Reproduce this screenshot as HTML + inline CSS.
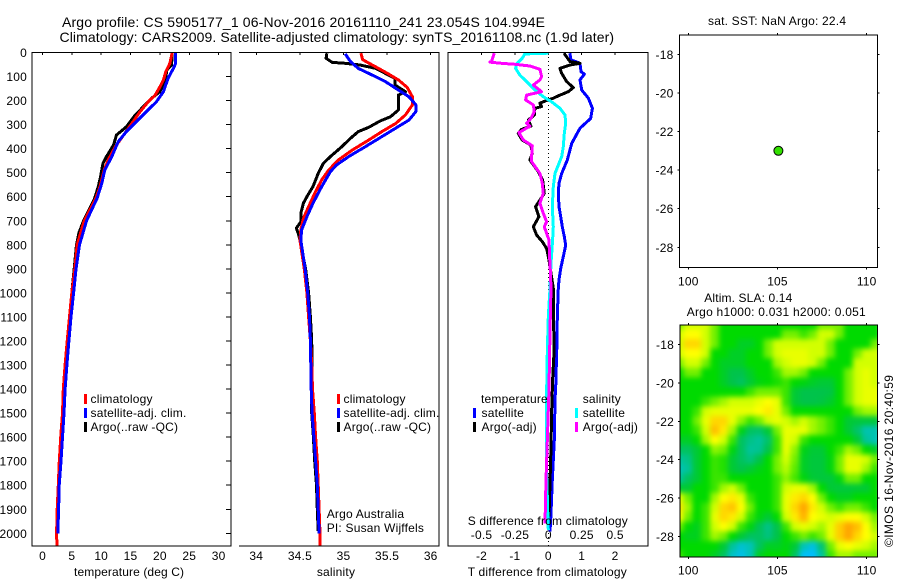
<!DOCTYPE html>
<html lang="en">
<head>
<meta charset="utf-8">
<title>Argo profile 5905177</title>
<style>
html,body{margin:0;padding:0;background:#fff;}
svg{display:block;font-family:"Liberation Sans",sans-serif;font-size:12px;fill:#000;letter-spacing:0.2px;}
.title{font-size:14px;letter-spacing:0;}
.fit{letter-spacing:0;}
</style>
</head>
<body>
<svg id="fig" xmlns="http://www.w3.org/2000/svg" width="900" height="580" viewBox="0 0 900 580">
  <defs>
    <clipPath id="clipT"><rect x="32" y="52" width="199" height="494"/></clipPath>
    <clipPath id="clipS"><rect x="239" y="52" width="200" height="494"/></clipPath>
    <clipPath id="clipD"><rect x="448" y="52" width="200" height="494"/></clipPath>
    <clipPath id="clipH"><rect x="680" y="325" width="197.5" height="232"/></clipPath>
    <filter id="heatBlur" x="-5%" y="-5%" width="110%" height="110%" color-interpolation-filters="sRGB"><feGaussianBlur stdDeviation="2.6"/></filter>
  </defs>
  <text class="title" x="62" y="27" textLength="483" lengthAdjust="spacing">Argo profile: CS 5905177_1 06-Nov-2016 20161110_241 23.054S 104.994E</text>
  <text class="title" x="59.5" y="42" textLength="554.5" lengthAdjust="spacing">Climatology: CARS2009. Satellite-adjusted climatology: synTS_20161108.nc (1.9d later)</text>

  <g id="pT"></g>
  <g id="pS"></g>
  <g id="pD"></g>
  <g id="pM"></g>
  <g id="pH"></g>

  <g fill="none" stroke="#000" stroke-width="1.4" shape-rendering="crispEdges">
    <path d="M32 52.5H231V546H32Z"/>
  </g>
  <g fill="none" stroke="#000" stroke-width="1.4" shape-rendering="crispEdges">
    <path d="M239 52.5H439V546H239"/>
  </g>
  <g fill="none" stroke="#000" stroke-width="1.4" shape-rendering="crispEdges">
    <path d="M448 52.5H648V546H448Z"/>
  </g>
  <g fill="none" stroke="#000" stroke-width="1.4" shape-rendering="crispEdges">
    <path d="M679.5 35H877.5V267.5H679.5Z"/>
  </g>
  <g fill="none" stroke="#000" stroke-width="1.4" shape-rendering="crispEdges">
    <path d="M680 325H877.5V557H680Z"/>
  </g>

  <g>
    <rect x="84" y="394" width="3" height="10" fill="#f00"/>
    <text x="90.5" y="403">climatology</text>
    <rect x="84" y="408" width="3" height="10" fill="#00f"/>
    <text x="90.5" y="417">satellite-adj. clim.</text>
    <rect x="84" y="422" width="3" height="10" fill="#000"/>
    <text x="90.5" y="431">Argo(..raw -QC)</text>
  </g>
  <g>
    <rect x="337" y="394" width="3" height="10" fill="#f00"/>
    <text x="343.5" y="403">climatology</text>
    <rect x="337" y="408" width="3" height="10" fill="#00f"/>
    <text x="343.5" y="417">satellite-adj. clim.</text>
    <rect x="337" y="422" width="3" height="10" fill="#000"/>
    <text x="343.5" y="431">Argo(..raw -QC)</text>
    <text x="326.7" y="518">Argo Australia</text>
    <text x="326.7" y="532">PI: Susan Wijffels</text>
  </g>
  <g>
    <text x="481" y="403">temperature</text>
    <rect x="473" y="408" width="3" height="10" fill="#00f"/>
    <text x="481.5" y="417">satellite</text>
    <rect x="473" y="422" width="3" height="10" fill="#000"/>
    <text x="481.5" y="431">Argo(-adj)</text>
    <text x="582.7" y="403">salinity</text>
    <rect x="575" y="408" width="3" height="10" fill="#0ff"/>
    <text x="582.7" y="417">satellite</text>
    <rect x="575" y="422" width="3" height="10" fill="#f0f"/>
    <text x="582.7" y="431">Argo(-adj)</text>
    <text class="fit" x="467.7" y="525" textLength="160" lengthAdjust="spacing">S difference from climatology</text>
  </g>

  <text class="fit" x="74" y="576" textLength="110" lengthAdjust="spacing">temperature (deg C)</text>
  <text x="336" y="576" text-anchor="middle">salinity</text>
  <text class="fit" x="467.7" y="576" textLength="159" lengthAdjust="spacing">T difference from climatology</text>
  <text class="fit" x="708" y="25" textLength="138" lengthAdjust="spacing">sat. SST: NaN Argo: 22.4</text>
  <text class="fit" x="704.3" y="302" textLength="88" lengthAdjust="spacing">Altim. SLA: 0.14</text>
  <text class="fit" x="686.7" y="316" textLength="179" lengthAdjust="spacing">Argo h1000: 0.031 h2000: 0.051</text>
  <text class="fit" transform="translate(893 547) rotate(-90)" textLength="172" lengthAdjust="spacing">©IMOS 16-Nov-2016 20:40:59</text>
</svg>
<script>
// ---- axis tick data ----
const depthTicks = [0,100,200,300,400,500,600,700,800,900,1000,1100,1200,1300,1400,1500,1600,1700,1800,1900,2000];
const tempTicks = [0,5,10,15,20,25,30];
const salTicks = [34,34.5,35,35.5,36];
const salTickLabels = ['34','34.5','35','35.5','36'];
const tDiffTicks = [-2,-1,0,1,2];
const sDiffTicks = [-0.5,-0.25,0,0.25,0.5];
const sDiffLabels = ['-0.5','-0.25','0','0.25','0.5'];
const lonTicks = [100,105,110];
const latTicks = [-18,-20,-22,-24,-26,-28];

// ---- temperature profiles ----
const tempClimDepth = [0,45,80,115,143,177,205,247,296,344,392,447,489,558,606,700,800,900,1000,1100,1200,1300,1400,1500,1600,1700,1800,1900,2000,2050];
const tempClimValue = [22.1,21.7,21.0,20.6,20.0,19.2,18.0,16.6,15.2,13.8,12.4,11.2,10.5,9.8,9.1,7.1,5.9,5.5,5.0,4.6,4.2,3.85,3.55,3.4,3.1,2.87,2.7,2.5,2.4,2.45];
const tempSatDepth = [0,45,66,107,163,205,246,288,329,371,433,489,544,606,700,800,900,1000,1100,1200,1300,1400,1500,1600,1700,1800,1900,2000];
const tempSatValue = [22.7,22.7,22.3,21.4,20.6,19.4,17.7,16.0,14.3,12.9,11.8,10.6,10.1,9.3,7.5,6.3,5.7,5.3,4.85,4.5,4.15,3.85,3.66,3.4,3.15,2.85,2.75,2.6];
const tempArgoDepth = [0,52,73,114,163,190,225,260,309,343,385,433,461,516,558,606,700,750,800,900,1000,1100,1200,1300,1400,1500,1600,1700,1800,1900,1990];
const tempArgoValue = [22.1,22,21.2,20.9,20.0,18.6,17.2,15.8,14.3,12.6,12.1,10.9,10.3,9.9,9.5,8.9,7.0,6.2,5.8,5.4,5.0,4.6,4.25,3.9,3.6,3.4,3.15,2.95,2.75,2.55,2.45];

// ---- salinity profiles ----
const salClimDepth = [3,30,52,82,114,145,184,218,260,295,329,364,406,447,489,530,586,641,690,738,780,900,1000,1100,1200,1300,1400,1500,1600,1700,1800,1900,2000,2050];
const salClimValue = [35.2,35.22,35.33,35.48,35.63,35.73,35.79,35.79,35.71,35.6,35.44,35.29,35.1,34.94,34.83,34.75,34.67,34.6,34.54,34.51,34.5,34.55,34.58,34.6,34.62,34.635,34.645,34.665,34.68,34.70,34.71,34.72,34.73,34.73];
const salSatDepth = [6,38,66,94,121,156,184,218,246,281,308,350,392,433,468,496,558,627,683,738,780,900,1000,1100,1200,1300,1400,1500,1600,1700,1800,1900,2000];
const salSatValue = [35.02,35.08,35.17,35.33,35.48,35.63,35.75,35.83,35.83,35.75,35.63,35.44,35.25,35.06,34.92,34.85,34.75,34.65,34.58,34.52,34.51,34.56,34.59,34.61,34.62,34.625,34.63,34.64,34.66,34.68,34.70,34.71,34.72];
const salArgoDepth = [3,24,41,45,52,66,87,107,135,163,177,205,239,267,285,311,329,357,392,433,461,503,558,600,627,669,704,731,752,780,900,1000,1100,1200,1300,1400,1500,1600,1700,1800,1900,1990];
const salArgoValue = [34.81,34.8,34.87,35.02,35.19,35.37,35.48,35.59,35.59,35.71,35.63,35.63,35.63,35.54,35.42,35.29,35.17,35.08,34.98,34.85,34.77,34.71,34.65,34.58,34.54,34.51,34.51,34.46,34.48,34.5,34.565,34.6,34.62,34.635,34.64,34.635,34.635,34.655,34.67,34.69,34.70,34.71];

// ---- difference profiles ----
const dTSatDepth = [3,30,45,80,90,114,156,190,232,274,315,378,447,503,544,586,641,683,725,766,801,849,898,946,981,1100,1200,1300,1362,1445,1612,1778,1917,1993];
const dTSatValue = [0.65,0.67,0.95,0.98,1.08,0.95,1.0,1.2,1.32,1.27,0.95,0.7,0.57,0.4,0.32,0.3,0.32,0.37,0.42,0.48,0.52,0.45,0.37,0.32,0.3,0.27,0.26,0.24,0.23,0.2,0.18,0.12,0.08,0.05];
const dTArgoDepth = [3,38,45,52,66,87,121,146,163,177,190,202,211,225,232,260,281,306,320,336,364,385,419,447,496,530,586,614,641,683,725,759,787,815,863,919,981,1100,1250,1362,1500,1640,1790,1930];
const dTArgoValue = [0.47,0.65,0.95,0.65,0.35,0.4,0.55,0.75,0.6,0.35,0.15,-0.1,-0.25,-0.2,-0.4,-0.42,-0.6,-0.52,-0.8,-0.9,-0.78,-0.52,-0.48,-0.55,-0.3,-0.17,-0.12,-0.25,-0.38,-0.28,-0.45,-0.35,-0.18,-0.05,0.02,0.08,0.15,0.16,0.17,0.13,0.1,0.08,0.05,0.02];
const dSSatDepth = [3,6,24,48,66,94,121,156,184,205,232,260,295,336,392,433,503,558,641,725,780,877,946,981,1100,1200,1300,1432,1750,1889,1986];
const dSSatValue = [0,-0.175,-0.195,-0.2375,-0.245,-0.2125,-0.1625,-0.1,-0.0375,0.025,0.0875,0.125,0.13,0.12,0.1125,0.1,0.05,0.0375,0.03,0.0375,0.0325,0.02,0.015,0.0125,0,-0.005,-0.01,-0.0125,-0.0125,-0.005,0];
const dSArgoDepth = [3,38,40,45,49,56,70,100,114,135,163,177,197,218,246,274,295,306,333,364,388,433,454,503,544,586,627,669,704,725,752,780,849,905,981,1100,1250,1400,1778,1959];
const dSArgoValue = [-0.405,-0.425,-0.4375,-0.35,-0.25,-0.1375,-0.0625,-0.05,-0.0625,-0.1125,-0.05,-0.1625,-0.17,-0.1125,-0.105,-0.13,-0.1625,-0.1375,-0.22,-0.1875,-0.12,-0.125,-0.125,-0.0625,-0.045,-0.0375,-0.0625,-0.0375,-0.0125,-0.03,-0.0125,0.005,0.01,0.015,0.02,0.015,0.01,0.005,-0.0175,-0.025];

// ---- float position ----
const floatLon = 105.05;
const floatLat = -23.0;

// ---- sea level anomaly grid (colour level 0=blue .. 8=orange) ----
const heatLons = [99.5,100,100.5,101,101.5,102,102.5,103,103.5,104,104.5,105,105.5,106,106.5,107,107.5,108,108.5,109,109.5,110,110.5];
const heatLats = [-17,-17.5,-18,-18.5,-19,-19.5,-20,-20.5,-21,-21.5,-22,-22.5,-23,-23.5,-24,-24.5,-25,-25.5,-26,-26.5,-27,-27.5,-28,-28.5,-29];
const heatValues = [
[4,5,5,5,4,3,3,3,3,3,3,3,3,3,3,3,4,4,4,3,3,3,3],
[5,6,6,5,4,3,3,3,3,3,3,3,4,4,3.5,4,5,5,4,3,3,3,3],
[5,7,7,5,4,3,3,2.5,2.5,3,4,5,5,5,5,5,5,4,3,3,3,3,4],
[5,6,6,5,3,3,2.5,2.5,3,3,4,5,5.5,5.5,5.5,5,5,4,3,3,4,5,5],
[4,5,5,4,3,2.5,2.5,2.5,3,3,3,4.5,5,5.5,5.5,5,4,3,3,3,5,5,5],
[3,4,4,3,3,2.5,2,2,2.5,3,3,3.5,4.5,4.5,4,3,3,3,3,4,5,5.5,5],
[3,3,3,3,3,2.5,2,1.8,2.3,2.8,3,3.2,3.5,3,2.8,2.5,2.3,2.3,3,4,5,5.5,5],
[3,3,3,3,3,3,3,3,3.5,4,4,4,3.5,2.3,2,2,2,2.1,3,4,5,5.5,5.5],
[3,3,3,3.5,4,4.5,5,5,5,5.5,6,5.5,3.5,2.3,2,2,2.1,2.4,3,4,5,5.5,5.5],
[3,3,3.5,5,5.5,5.5,5.5,5.5,5.5,6,6.5,5.5,4,3,3,3,3,3,3,3,4,4.5,4.5],
[3,3,4,5.5,7,7,5.5,4.3,3.5,4,5,5.5,5,4.5,5,4.5,4,3.5,3,2.3,2.2,2.2,2.2],
[3,3,3.5,5,7.5,6.5,4.5,2.7,1.8,1.7,2.3,4,5.5,5.5,5.5,4.5,4,3.5,3,2.3,1.7,1,1],
[2.5,2.5,3,4.5,6,5,3.5,1.8,1.4,1.2,1.7,3.5,5.5,5,3.5,3,3,3,3,3,2.3,1.2,0.9],
[1.8,1.8,2.3,3,4.3,4,2.8,1.8,1.2,1.3,2,3.5,5.5,4.3,2.7,2.3,2.3,3,3.5,4.5,4,3,2.5],
[1.2,1.4,2.3,3,3.5,3.3,2.3,1.8,1.5,2,3,4,5,4,2.5,2.2,2.2,2.8,4,5.5,5.5,5,4],
[0.9,1.2,2.3,3,3.5,3.3,2.3,2,2.3,2.7,3,4,4.7,3.8,2.5,2.2,2.2,2.8,4,5.5,5.5,4.5,3.5],
[1.2,1.8,2.3,3,3.5,3.5,3,3,3,3,3,3.5,4.3,3.6,2.8,2.3,2.2,2.2,2.8,4,4,3,3],
[2.3,2.3,3,3,3.5,4.5,5,4,3,3,3,3.5,5,5.5,5.5,4.5,3,2.3,2.2,2.2,2.3,2.3,3],
[5.5,4,3,3,4.5,6,6.5,5.5,3.5,3,3,3.5,5.5,6.5,7,6,4,3,2.6,2.6,3,3,3],
[6.5,4.5,3,3.5,5,7,7.4,6,4,3,3,3.5,5.5,7,8,6.5,5,4,3.5,4,4,3.5,3],
[6,4,3,3.5,5.5,7,6.5,5,3.5,2.8,2.3,3,5,6.5,7.7,6,5.5,5,5.5,6,6,5,4],
[4,3,2.6,3.5,5,6,5,3.5,2.8,1.9,1.4,2,3.5,5,5.5,5,4.5,5.5,7.2,8.3,7.5,6,4.5],
[3,2.6,2.6,3.5,4.5,4,3,2.3,1.8,1.8,1.5,2,3,3.5,4,3.5,4,5.5,7.2,8,7,6,5],
[3,3,3,3,3,2.3,1.2,0.6,0.9,1.8,2.5,2.5,2.8,2.3,0.9,0.4,1.6,4,5.5,6,5.5,5,4.5],
[3.5,3,3,3,2.5,1.8,0.7,0.3,0.9,2.5,3,3,3,1.8,0.1,0,1.2,3.5,4.5,4.5,4,4,4]
];

// ---- axis functions ----
function yDepth(d){ return 52.5 + d * 0.2404; }
function xTemp(v){ return 42.5 + v * 5.87; }
function xSal(v){ return 256.3 + (v - 34) * 87.2; }
function xTDiff(v){ return 548.3 + v * 33.4; }
function xSDiff(v){ return 548.3 + v * 4 * 33.4; }
function xMapLon(v){ return 688.3 + (v - 100) * 17.84; }
function yMap1Lat(v){ return 54.3 + (-18 - v) * 19.3; }
function yMap2Lat(v){ return 344.3 + (-18 - v) * 19.24; }

const SVGNS = 'http://www.w3.org/2000/svg';
function heatColor(v){
  const stops = [[0,190,255],[0,195,175],[0,195,75],[0,218,0],[115,240,0],[210,255,0],[255,255,0],[255,215,0],[255,165,0]];
  const t = Math.max(0, Math.min(8, v));
  const i = Math.min(7, Math.floor(t));
  const f = t - i;
  const c = stops[i].map(function(a, k){ return Math.round(a + (stops[i + 1][k] - a) * f); });
  return 'rgb(' + c.join(',') + ')';
}
function drawLine(parent, name, x1, y1, x2, y2){
  const el = document.createElementNS(SVGNS, 'line');
  
  
  el.setAttribute('x1', x1);
  el.setAttribute('y1', y1);
  el.setAttribute('x2', x2);
  el.setAttribute('y2', y2);
  el.setAttribute('stroke', '#000');
  el.setAttribute('stroke-width', '1');
  el.setAttribute('shape-rendering', 'crispEdges');
  parent.appendChild(el);
}
function drawLabel(parent, name, x, y, anchor, str){
  const el = document.createElementNS(SVGNS, 'text');
  
  
  el.setAttribute('x', x);
  el.setAttribute('y', y);
  el.setAttribute('text-anchor', anchor);
  el.textContent = str;
  parent.appendChild(el);
}
function drawProfile(parent, name, clip, depths, values, xf, color, width){
  const el = document.createElementNS(SVGNS, 'polyline');
  
  
  el.setAttribute('points', depths.map(function(d, i){ return xf(values[i]).toFixed(1) + ',' + yDepth(d).toFixed(1); }).join(' '));
  el.setAttribute('fill', 'none');
  el.setAttribute('stroke', color);
  el.setAttribute('stroke-width', width);
  el.setAttribute('stroke-linejoin', 'round');
  el.setAttribute('shape-rendering', 'crispEdges');
  el.setAttribute('clip-path', 'url(#' + clip + ')');
  parent.appendChild(el);
}

const pT = document.getElementById('pT');
const pS = document.getElementById('pS');
const pD = document.getElementById('pD');
const pM = document.getElementById('pM');
const pH = document.getElementById('pH');

// temperature panel
depthTicks.forEach(function(d){
  drawLine(pT, 'depth-tick', 226, yDepth(d), 231, yDepth(d));
  drawLabel(pT, 'depth-tick-label', 27, yDepth(d) + 4.5, 'end', String(d));
});
tempTicks.forEach(function(v){
  drawLine(pT, 'temperature-tick', xTemp(v), 52.5, xTemp(v), 55);
  drawLabel(pT, 'temperature-tick-label', xTemp(v), 560, 'middle', String(v));
});
drawProfile(pT, 'temperature-argo-line', 'clipT', tempArgoDepth, tempArgoValue, xTemp, '#000', 3);
drawProfile(pT, 'temperature-climatology-line', 'clipT', tempClimDepth, tempClimValue, xTemp, '#f00', 3);
drawProfile(pT, 'temperature-satellite-line', 'clipT', tempSatDepth, tempSatValue, xTemp, '#00f', 3);

// salinity panel
salTicks.forEach(function(v, i){
  drawLine(pS, 'salinity-tick', xSal(v), 52.5, xSal(v), 55);
  drawLabel(pS, 'salinity-tick-label', xSal(v), 560, 'middle', salTickLabels[i]);
});
drawProfile(pS, 'salinity-argo-line', 'clipS', salArgoDepth, salArgoValue, xSal, '#000', 3);
drawProfile(pS, 'salinity-climatology-line', 'clipS', salClimDepth, salClimValue, xSal, '#f00', 3);
drawProfile(pS, 'salinity-satellite-line', 'clipS', salSatDepth, salSatValue, xSal, '#00f', 3);

// difference panel
tDiffTicks.forEach(function(v){
  drawLine(pD, 't-difference-tick', xTDiff(v), 52.5, xTDiff(v), 55);
  drawLabel(pD, 't-difference-tick-label', xTDiff(v), 560, 'middle', String(v));
});
sDiffTicks.forEach(function(v, i){
  drawLabel(pD, 's-difference-tick-label', xSDiff(v), 539, 'middle', sDiffLabels[i]);
});
(function(){
  const z = document.createElementNS(SVGNS, 'line');
  
  
  z.setAttribute('x1', xTDiff(0));
  z.setAttribute('x2', xTDiff(0));
  z.setAttribute('y1', 53);
  z.setAttribute('y2', 546);
  z.setAttribute('stroke', '#000');
  z.setAttribute('stroke-width', '1');
  z.setAttribute('stroke-dasharray', '1 3');
  z.setAttribute('shape-rendering', 'crispEdges');
  pD.appendChild(z);
})();
drawProfile(pD, 't-difference-satellite-line', 'clipD', dTSatDepth, dTSatValue, xTDiff, '#00f', 3);
drawProfile(pD, 't-difference-argo-line', 'clipD', dTArgoDepth, dTArgoValue, xTDiff, '#000', 3);
drawProfile(pD, 's-difference-satellite-line', 'clipD', dSSatDepth, dSSatValue, xSDiff, '#0ff', 3);
drawProfile(pD, 's-difference-argo-line', 'clipD', dSArgoDepth, dSArgoValue, xSDiff, '#f0f', 3);

// SST map
lonTicks.forEach(function(v){
  drawLine(pM, 'sst-map-lon-tick-top', xMapLon(v), 33, xMapLon(v), 35);
  drawLine(pM, 'sst-map-lon-tick-bottom', xMapLon(v), 267.5, xMapLon(v), 269.5);
  drawLabel(pM, 'sst-map-lon-label', xMapLon(v), 285.5, 'middle', String(v));
});
latTicks.forEach(function(v){
  drawLine(pM, 'sst-map-lat-tick-left', 677.5, yMap1Lat(v), 679.5, yMap1Lat(v));
  drawLine(pM, 'sst-map-lat-tick-right', 877.5, yMap1Lat(v), 879.5, yMap1Lat(v));
  drawLabel(pM, 'sst-map-lat-label', 673.5, yMap1Lat(v) + 4.5, 'end', String(v));
});
(function(){
  const dot = document.createElementNS(SVGNS, 'circle');
  
  
  dot.setAttribute('cx', xMapLon(floatLon));
  dot.setAttribute('cy', yMap1Lat(floatLat));
  dot.setAttribute('r', '4.5');
  dot.setAttribute('fill', '#33e000');
  dot.setAttribute('stroke', '#000');
  dot.setAttribute('stroke-width', '1');
  pM.appendChild(dot);
})();

// SLA map
(function(){
  const clipper = document.createElementNS(SVGNS, 'g');
  clipper.setAttribute('clip-path', 'url(#clipH)');
  const cells = document.createElementNS(SVGNS, 'g');
  
  
  cells.setAttribute('filter', 'url(#heatBlur)');
  const dLon = Math.abs(xMapLon(heatLons[1]) - xMapLon(heatLons[0]));
  const dLat = Math.abs(yMap2Lat(heatLats[1]) - yMap2Lat(heatLats[0]));
  heatValues.forEach(function(row, r){
    row.forEach(function(v, c){
      const cell = document.createElementNS(SVGNS, 'rect');
      
      
      cell.setAttribute('x', xMapLon(heatLons[c]) - dLon / 2 - 0.5);
      cell.setAttribute('y', yMap2Lat(heatLats[r]) - dLat / 2 - 0.5);
      cell.setAttribute('width', dLon + 1);
      cell.setAttribute('height', dLat + 1);
      cell.setAttribute('fill', heatColor(v));
      cells.appendChild(cell);
    });
  });
  clipper.appendChild(cells);
  pH.appendChild(clipper);
})();
lonTicks.forEach(function(v){
  drawLine(pH, 'sla-map-lon-tick-top', xMapLon(v), 323, xMapLon(v), 325);
  drawLine(pH, 'sla-map-lon-tick-bottom', xMapLon(v), 557, xMapLon(v), 559);
  drawLabel(pH, 'sla-map-lon-label', xMapLon(v), 574.5, 'middle', String(v));
});
latTicks.forEach(function(v){
  drawLine(pH, 'sla-map-lat-tick-left', 678, yMap2Lat(v), 680, yMap2Lat(v));
  drawLine(pH, 'sla-map-lat-tick-right', 877.5, yMap2Lat(v), 879.5, yMap2Lat(v));
  drawLabel(pH, 'sla-map-lat-label', 674, yMap2Lat(v) + 4.5, 'end', String(v));
});
</script>
</body>
</html>
